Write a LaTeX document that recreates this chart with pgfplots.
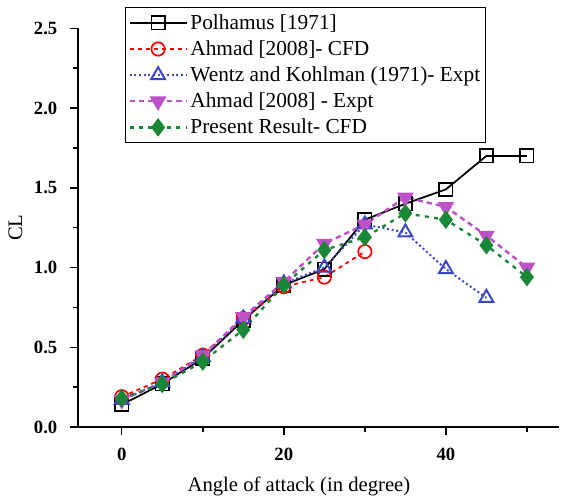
\documentclass[border=0pt]{standalone}
\usepackage{fontspec}
\setmainfont{Liberation Serif}
\usepackage{pgfplots}
\pgfplotsset{compat=1.18}
\definecolor{cblue}{RGB}{60,70,200}
\definecolor{cmag}{RGB}{190,80,200}
\definecolor{cgreen}{RGB}{25,135,55}
\pgfplotsset{lw/.style={legend image code/.code={\draw[mark repeat=2,mark phase=2,##1,line width=#1] plot coordinates {(0cm,0cm) (0.75cm,0cm) (1.5cm,0cm)};}}}
\begin{document}
\begin{tikzpicture}
\begin{axis}[
  scale only axis,
  width=361pt, height=299pt,
  xmin=-5.4, xmax=54, ymin=0, ymax=2.5,
  axis x line*=bottom, axis y line*=left,
  axis line style={line width=1.2pt, -},
  xtick={0,20,40}, minor xtick={10,30,50},
  ytick={0,0.5,1.0,1.5,2.0,2.5}, minor ytick={0.25,0.75,1.25,1.75,2.25},
  yticklabel style={/pgf/number format/fixed,/pgf/number format/fixed zerofill,/pgf/number format/precision=1, xshift=-6pt},
  xticklabel style={yshift=-6pt},
  /pgf/number format/assume math mode=true,
  tick label style={font=\fontsize{14}{16}\selectfont\bfseries},
  major tick length=6pt, minor tick length=4pt,
  tick style={line width=1.1pt, black},
  tick align=outside,
  xlabel={Angle of attack (in degree)}, ylabel={CL},
  every axis x label/.style={at={(axis description cs:0.459,-0.150)}, anchor=center, font=\fontsize{15.5}{17}\selectfont},
  every axis y label/.style={at={(axis description cs:-0.13,0.5)}, rotate=90, anchor=center, font=\fontsize{15.5}{17}\selectfont},
  legend style={at={(rel axis cs:0.098,1.053)}, anchor=north west, draw=black, line width=0.9pt, font=\fontsize{16}{17}\selectfont, row sep=3pt, inner sep=2pt, inner ysep=3pt, nodes={inner xsep=2pt}},
  legend cell align=left,
  clip=false,
]
\addplot[black, line width=1.3pt, mark=square, mark size=5pt, mark options={solid, fill=white}, lw=1.3pt] coordinates {
(0,0.14)(5,0.27)(10,0.43)(15,0.67)(20,0.89)(25,0.99)(30,1.3)(35,1.4)(40,1.49)(45,1.7)(50,1.7)};
\addlegendentry{Polhamus [1971]}
\addplot[red, line width=1.3pt, dashed, mark=o, mark size=5pt, mark options={solid}, lw=1.3pt] coordinates {
(0,0.19)(5,0.3)(10,0.45)(15,0.68)(20,0.88)(25,0.94)(30,1.1)};
\addlegendentry{Ahmad [2008]- CFD}
\addplot[cblue, line width=1.5pt, dotted, mark=triangle, mark size=6pt, mark options={solid, fill=white}, lw=1.5pt] coordinates {
(0,0.17)(5,0.28)(10,0.44)(15,0.68)(20,0.9)(25,1.0)(30,1.27)(35,1.22)(40,0.99)(45,0.81)};
\addlegendentry{Wentz and Kohlman (1971)- Expt}
\addplot[cmag, line width=1.8pt, dash pattern=on 4pt off 3pt, mark=triangle*, mark size=5.5pt, mark options={solid, rotate=180, fill=cmag}, lw=1.8pt] coordinates {
(0,0.17)(5,0.28)(10,0.45)(15,0.69)(20,0.91)(25,1.15)(30,1.27)(35,1.44)(40,1.38)(45,1.2)(50,1.0)};
\addlegendentry{Ahmad [2008] - Expt}
\addplot[cgreen, line width=1.8pt, dash pattern=on 3pt off 4pt, mark=diamond*, mark size=5.5pt, mark options={solid, fill=cgreen}, lw=1.8pt] coordinates {
(0,0.18)(5,0.27)(10,0.41)(15,0.61)(20,0.89)(25,1.11)(30,1.19)(35,1.34)(40,1.3)(45,1.14)(50,0.94)};
\addlegendentry{Present Result- CFD}
\end{axis}
\useasboundingbox (-58.5pt,-55.5pt) rectangle (366.75pt,320.25pt);
\end{tikzpicture}
\end{document}
